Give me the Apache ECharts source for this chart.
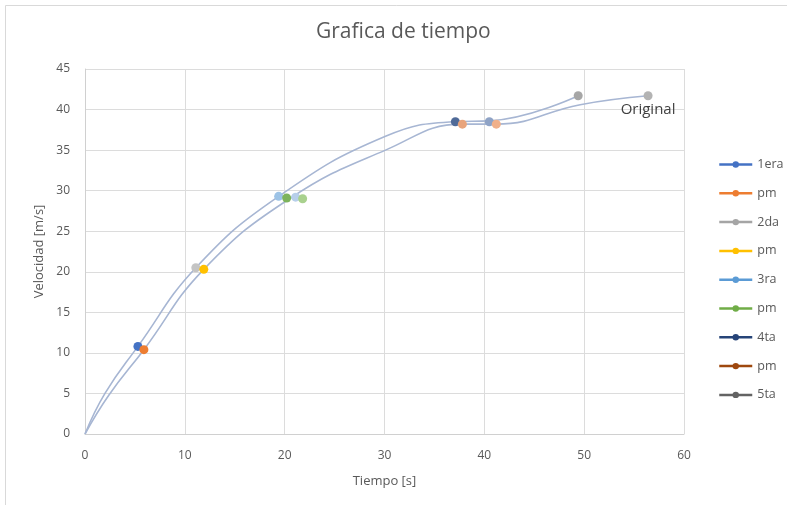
<!DOCTYPE html>
<html>
<head>
<meta charset="utf-8">
<script src="https://cdn.jsdelivr.net/npm/echarts@6/dist/echarts.min.js"></script>
<style>
  html, body { margin: 0; padding: 0; background: #ffffff; }
  #chart { width: 787px; height: 505px; }
</style>
</head>
<body>
<div id="chart"></div>
<script>
// Tick values of both axes
const xTicks = { min: 0, max: 60, step: 10 };
const yTicks = { min: 0, max: 45, step: 5 };

// Upper curve: time [s] and velocity [m/s]
const tiempoA    = [0, 2.0, 5.3, 11.1, 19.4, 30.1, 37.1, 40.5, 49.4];
const velocidadA = [0, 5.0, 10.8, 20.5, 29.3, 36.7, 38.5, 38.6, 41.7];

// Lower curve ("Original")
const tiempoB    = [0, 2.4, 5.9, 11.9, 20.6, 30.1, 37.8, 41.2, 49.6, 56.4];
const velocidadB = [0, 4.8, 10.4, 20.3, 29.1, 35.0, 38.2, 38.2, 40.6, 41.7];

// Marked points of each stage: names, legend colours, x, y and point colours
const etapas  = ['1era', 'pm', '2da', 'pm', '3ra', 'pm', '4ta', 'pm', '5ta'];
const colores = ['#4472C4', '#ED7D31', '#A5A5A5', '#FFC000', '#5B9BD5', '#70AD47', '#264478', '#9E480E', '#636363'];
const puntosX = [[5.3], [5.9], [11.1], [11.9], [19.4, 21.1], [20.2, 21.8], [37.1, 40.5], [37.8, 41.2], [49.4, 56.4]];
const puntosY = [[10.8], [10.4], [20.5], [20.3], [29.3, 29.2], [29.1, 29.0], [38.5, 38.5], [38.2, 38.2], [41.7, 41.7]];
const puntosColor = [
  ['#4472C4'], ['#ED7D31'], ['#C4C4C4'], ['#FFC000'],
  ['#9DC3E6', '#B7CFEA'], ['#7DB35C', '#A9D18E'],
  ['#4F6A98', '#8FA3C6'], ['#E8A47C', '#F0B08A'],
  ['#A6A6A6', '#B3B3B3']
];
const etiquetaFinal = 'Original';

const textColor = '#595959';
const fontFam = '"Open Sans", "Liberation Sans", sans-serif';

function pares(xs, ys) { return xs.map((x, i) => [x, ys[i]]); }

const curveStyle = { color: '#A7B6D3', width: 1.6 };
const series = [
  {
    type: 'line', name: 'curvaA', data: pares(tiempoA, velocidadA),
    smooth: 0.45, showSymbol: false, symbol: 'none',
    lineStyle: curveStyle, z: 2, silent: true
  },
  {
    type: 'line', name: 'curvaB', data: pares(tiempoB, velocidadB),
    smooth: 0.45, showSymbol: false, symbol: 'none',
    lineStyle: curveStyle, z: 2, silent: true
  }
];

// "pm" repeats, so each legend key gets an invisible suffix to stay unique
const claves = etapas.map((n, i) => n + (n === 'pm' ? '\u200b'.repeat(i) : ''));

etapas.forEach((nombre, i) => {
  const last = i === etapas.length - 1;
  series.push({
    type: 'line',
    name: claves[i],
    data: puntosX[i].map((x, j) => {
      const item = { value: [x, puntosY[i][j]], itemStyle: { color: puntosColor[i][j] } };
      if (last && j === puntosX[i].length - 1) {
        item.label = {
          show: true, formatter: etiquetaFinal, position: 'bottom', distance: 2,
          color: '#404040', fontSize: 15, fontFamily: fontFam
        };
      }
      return item;
    }),
    symbol: 'circle', symbolSize: 9, showSymbol: true,
    itemStyle: { color: colores[i] },
    lineStyle: { color: colores[i], width: 2.5, opacity: 0 },
    z: 5
  });
});

const chart = echarts.init(document.getElementById('chart'), null, { renderer: 'canvas' });
chart.setOption({
  animation: false,
  backgroundColor: '#ffffff',
  title: {
    text: 'Grafica de tiempo', left: 316, top: 22, padding: 0,
    textStyle: { color: textColor, fontSize: 21, fontWeight: 'normal', fontFamily: fontFam }
  },
  legend: {
    orient: 'vertical', left: 718, top: 158, itemGap: 15.8, padding: 0,
    itemWidth: 33, itemHeight: 8,
    data: claves,
    formatter: (n) => n.replace(/\u200b/g, ''),
    textStyle: { color: textColor, fontSize: 12.5, fontFamily: fontFam },
    lineStyle: { width: 2.5, opacity: 1 },
    itemStyle: { opacity: 1 }
  },
  grid: { left: 85, right: 103, top: 69, bottom: 71 },
  xAxis: {
    type: 'value', min: xTicks.min, max: xTicks.max, interval: xTicks.step,
    name: 'Tiempo [s]', nameLocation: 'middle', nameGap: 41,
    nameTextStyle: { color: textColor, fontSize: 13, fontFamily: fontFam },
    axisLine: { show: true, lineStyle: { color: '#D0D0D0', width: 1 } },
    axisTick: { show: false },
    axisLabel: { color: textColor, fontSize: 12, margin: 16, fontFamily: fontFam },
    splitLine: { show: true, lineStyle: { color: '#DCDCDC', width: 1 } }
  },
  yAxis: {
    type: 'value', min: yTicks.min, max: yTicks.max, interval: yTicks.step,
    name: 'Velocidad [m/s]', nameLocation: 'middle', nameGap: 37, nameRotate: 90,
    nameTextStyle: { color: textColor, fontSize: 13, fontFamily: fontFam },
    axisLine: { show: true, lineStyle: { color: '#D0D0D0', width: 1 } },
    axisTick: { show: false },
    axisLabel: { color: textColor, fontSize: 12, margin: 15, fontFamily: fontFam },
    splitLine: { show: true, lineStyle: { color: '#DCDCDC', width: 1 } }
  },
  graphic: [{
    type: 'rect', shape: { x: 5.5, y: 5.5, width: 800, height: 520 },
    style: { fill: 'none', stroke: '#D9D9D9', lineWidth: 1 }, silent: true, z: -1
  }],
  series: series
});
</script>
</body>
</html>
